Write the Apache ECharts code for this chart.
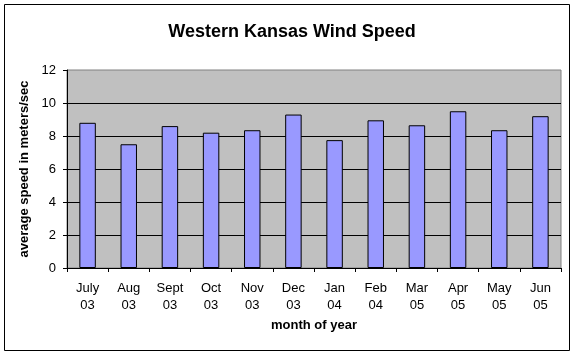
<!DOCTYPE html>
<html>
<head>
<meta charset="utf-8">
<script src="https://cdn.jsdelivr.net/npm/echarts@6/dist/echarts.min.js"></script>
<style>
html,body{margin:0;padding:0;background:#fff;}
#chart{width:575px;height:355px;}
</style>
</head>
<body>
<div id="chart"></div>
<script>
const months = ['July', 'Aug', 'Sept', 'Oct', 'Nov', 'Dec', 'Jan', 'Feb', 'Mar', 'Apr', 'May', 'Jun'];
const years = ['03', '03', '03', '03', '03', '03', '04', '04', '05', '05', '05', '05'];
const windSpeed = [8.8, 7.5, 8.6, 8.2, 8.35, 9.3, 7.75, 8.95, 8.65, 9.5, 8.35, 9.2];
const yTicks = [0, 2, 4, 6, 8, 10, 12];

const categories = months.map((m, i) => m + '\n' + years[i]);
const font = 'Liberation Sans, Arial, sans-serif';

const chart = echarts.init(document.getElementById('chart'), null, {renderer: 'canvas'});
chart.setOption({
  animation: false,
  backgroundColor: '#ffffff',
  title: {
    text: 'Western Kansas Wind Speed',
    left: 287, top: 18, textAlign: 'center',
    textStyle: {fontFamily: font, fontSize: 18, fontWeight: 'bold', color: '#000'}
  },
  graphic: [{
    type: 'rect', shape: {x: 4.5, y: 4.5, width: 565, height: 346},
    style: {fill: 'none', stroke: '#000', lineWidth: 1}, z: 100
  }],
  grid: {
    left: 67, right: 14, top: 70, bottom: 87,
    show: true, backgroundColor: '#C0C0C0', borderColor: '#808080', borderWidth: 1
  },
  xAxis: {
    type: 'category', data: categories,
    name: 'month of year', nameLocation: 'middle', nameGap: 46,
    nameTextStyle: {fontFamily: font, fontSize: 13, fontWeight: 'bold', color: '#000'},
    axisLine: {lineStyle: {color: '#000', width: 1}},
    axisTick: {show: true, alignWithLabel: false, length: 4, lineStyle: {color: '#000'}},
    axisLabel: {fontFamily: font, fontSize: 13, color: '#000', margin: 12, lineHeight: 17, interval: 0},
    splitLine: {show: false}
  },
  yAxis: {
    type: 'value', min: yTicks[0], max: yTicks[yTicks.length - 1], interval: 2,
    name: 'average speed in meters/sec', nameLocation: 'middle', nameGap: 34,
    nameTextStyle: {fontFamily: font, fontSize: 13, fontWeight: 'bold', color: '#000'},
    axisLine: {show: true, lineStyle: {color: '#000', width: 1}},
    axisTick: {show: true, length: 4, lineStyle: {color: '#000'}},
    axisLabel: {fontFamily: font, fontSize: 13, color: '#000', margin: 11},
    splitLine: {show: true, showMaxLine: false, lineStyle: {color: '#000', width: 1}}
  },
  series: [{
    type: 'bar', data: windSpeed, barWidth: '40%',
    itemStyle: {color: '#9999FF', borderColor: '#000', borderWidth: 1}
  }]
});
</script>
</body>
</html>
